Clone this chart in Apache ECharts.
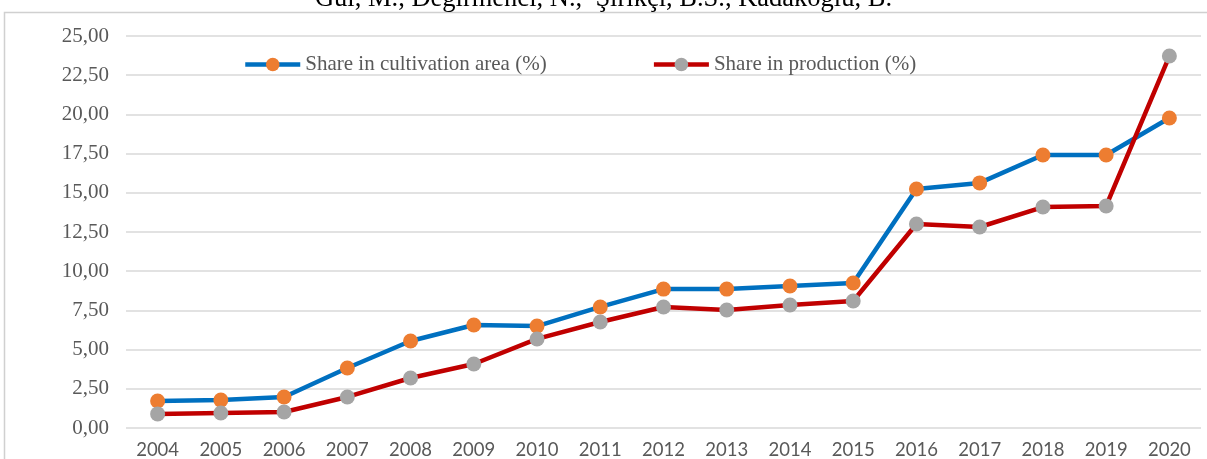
<!DOCTYPE html>
<html>
<head>
<meta charset="utf-8">
<script src="https://cdn.jsdelivr.net/npm/echarts@6/dist/echarts.min.js"></script>
<style>
  html, body { margin: 0; padding: 0; background: #fff; }
  #chart { width: 1207px; height: 459px; }
</style>
</head>
<body>
<div id="chart"></div>
<script>
// data
var years = ['2004', '2005', '2006', '2007', '2008', '2009', '2010', '2011', '2012',
    '2013', '2014', '2015', '2016', '2017', '2018', '2019', '2020'];
var areaShare = [1.72, 1.78, 1.98, 3.83, 5.55, 6.57, 6.50, 7.72, 8.86,
    8.86, 9.06, 9.25, 15.24, 15.63, 17.41, 17.41, 19.77];
var prodShare = [0.90, 0.96, 1.02, 1.98, 3.19, 4.08, 5.68, 6.76, 7.72,
    7.53, 7.84, 8.10, 13.01, 12.82, 14.09, 14.16, 23.72];

var serif = '"Liberation Serif", "DejaVu Serif", serif';
var sans = 'Lato, "Open Sans", sans-serif';

var chart = echarts.init(document.getElementById('chart'));

var option = {
    animation: false,
    title: {
        text: 'Gul, M., Degirmenci, N.,  Şirikçi, B.S., Kadakoglu, B.',
        left: 'center',
        top: -19,
        textStyle: { fontFamily: serif, fontSize: 26.5, fontWeight: 'normal', color: '#000' }
    },
    graphic: [{
        type: 'rect',
        shape: { x: 4.5, y: 12.5, width: 1220, height: 460 },
        style: { fill: 'none', stroke: '#d0d0d0', lineWidth: 1.5 },
        silent: true
    }],
    legend: {
        left: 238,
        top: 49,
        itemWidth: 55,
        itemHeight: 17,
        itemGap: 105,
        lineStyle: { width: 4.5 },
        textStyle: { fontFamily: serif, fontSize: 21, color: '#595959' },
        data: ['Share in cultivation area (%)', 'Share in production (%)']
    },
    grid: { left: 126, right: 6, top: 36, bottom: 31, outerBoundsMode: 'none' },
    xAxis: {
        type: 'category',
        data: years,
        axisLine: { show: false },
        axisTick: { show: false },
        axisLabel: { fontFamily: sans, fontSize: 18.5, color: '#595959', margin: 13 }
    },
    yAxis: {
        type: 'value',
        min: 0,
        max: 25,
        interval: 2.5,
        axisLine: { show: false },
        axisTick: { show: false },
        splitLine: { lineStyle: { color: '#d9d9d9', width: 1.5 } },
        axisLabel: {
            fontFamily: serif, fontSize: 21, color: '#595959', margin: 17,
            formatter: function (v) { return v.toFixed(2).replace('.', ','); }
        }
    },
    series: [{
        name: 'Share in cultivation area (%)',
        type: 'line',
        data: areaShare,
        symbol: 'circle',
        symbolSize: 15,
        lineStyle: { color: '#0070C0', width: 4.5 },
        itemStyle: { color: '#ED7D31', borderWidth: 0 }
    }, {
        name: 'Share in production (%)',
        type: 'line',
        data: prodShare,
        symbol: 'circle',
        symbolSize: 15,
        lineStyle: { color: '#C00000', width: 4.5 },
        itemStyle: { color: '#A5A5A5', borderWidth: 0 }
    }]
};

chart.setOption(option);
</script>
</body>
</html>
